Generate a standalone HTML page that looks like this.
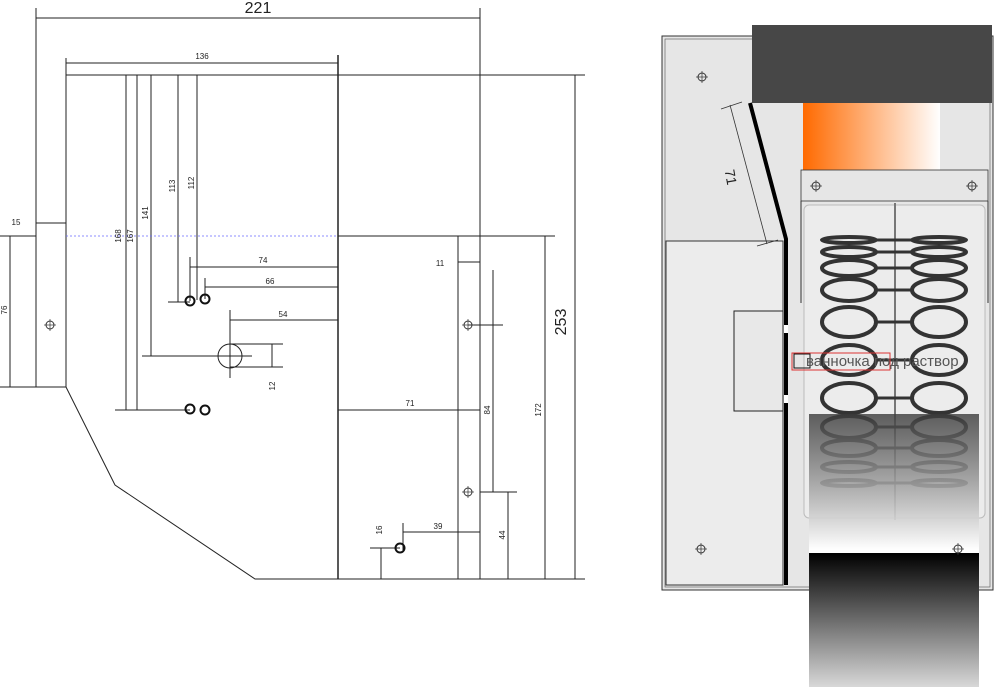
<!DOCTYPE html>
<html><head><meta charset="utf-8"><style>html,body{margin:0;padding:0;background:#fff}svg{display:block}</style></head>
<body>
<svg width="1000" height="687" viewBox="0 0 1000 687" xmlns="http://www.w3.org/2000/svg" font-family="Liberation Sans, sans-serif">
<defs>
<linearGradient id="og" x1="0" x2="1" y1="0" y2="0"><stop offset="0" stop-color="#ff6a00"/><stop offset="1" stop-color="#ffffff"/></linearGradient>
<linearGradient id="fg" x1="0" x2="0" y1="0" y2="1"><stop offset="0" stop-color="#3a3a3a" stop-opacity="0.8"/><stop offset="0.75" stop-color="#ffffff" stop-opacity="0.95"/><stop offset="1" stop-color="#ffffff"/></linearGradient>
<linearGradient id="bg" x1="0" x2="0" y1="0" y2="1"><stop offset="0" stop-color="#000"/><stop offset="1" stop-color="#d8d8d8"/></linearGradient>
<g id="hole"><circle r="4" fill="none" stroke="#333" stroke-width="1"/><line x1="-6" x2="6" y1="0" y2="0" stroke="#333" stroke-width="0.7"/><line y1="-6" y2="6" x1="0" x2="0" stroke="#333" stroke-width="0.7"/></g>
<g id="bh"><circle r="4.5" fill="none" stroke="#111" stroke-width="2"/></g>
</defs>

<!-- LEFT DRAWING -->
<g stroke="#222" stroke-width="1" fill="none">
<line x1="36" y1="8" x2="36" y2="387"/>
<line x1="480" y1="8" x2="480" y2="579"/>
<line x1="36" y1="18" x2="480" y2="18"/>
<line x1="66" y1="58" x2="66" y2="387"/>
<line x1="66" y1="63" x2="338" y2="63"/>
<line x1="338" y1="55" x2="338" y2="579" stroke-width="1.5"/>
<line x1="66" y1="75" x2="585" y2="75"/>
<polyline points="66,387 115,485 255,579 585,579"/>
<line x1="126" y1="75" x2="126" y2="410"/>
<line x1="137" y1="75" x2="137" y2="410"/>
<line x1="151" y1="75" x2="151" y2="356"/>
<line x1="178" y1="75" x2="178" y2="302"/>
<line x1="197" y1="75" x2="197" y2="300"/>
<line x1="36" y1="223" x2="66" y2="223"/>
<line x1="0" y1="236" x2="36" y2="236"/>
<line x1="66" y1="236" x2="338" y2="236" stroke="#6a6aff" stroke-dasharray="2,2" stroke-width="0.8"/>
<line x1="338" y1="236" x2="555" y2="236"/>
<line x1="10" y1="236" x2="10" y2="387"/>
<line x1="0" y1="387" x2="66" y2="387"/>
<line x1="190" y1="257" x2="190" y2="301"/>
<line x1="190" y1="267" x2="338" y2="267"/>
<line x1="205" y1="278" x2="205" y2="299"/>
<line x1="205" y1="287" x2="338" y2="287"/>
<line x1="168" y1="302" x2="190" y2="302"/>
<line x1="230" y1="310" x2="230" y2="378"/>
<line x1="230" y1="320" x2="338" y2="320"/>
<circle cx="230" cy="356" r="12"/>
<line x1="142" y1="356" x2="252" y2="356"/>
<line x1="230" y1="344" x2="283" y2="344"/>
<line x1="230" y1="367" x2="283" y2="367"/>
<line x1="272" y1="344" x2="272" y2="367"/>
<line x1="115" y1="410" x2="190" y2="410"/>
<line x1="338" y1="410" x2="480" y2="410"/>
<line x1="458" y1="236" x2="458" y2="579"/>
<line x1="458" y1="262" x2="480" y2="262"/>
<line x1="493" y1="270" x2="493" y2="492"/>
<line x1="468" y1="325" x2="503" y2="325"/>
<line x1="480" y1="492" x2="517" y2="492"/>
<line x1="508" y1="492" x2="508" y2="579"/>
<line x1="545" y1="236" x2="545" y2="579"/>
<line x1="575" y1="75" x2="575" y2="579"/>
<line x1="403" y1="523" x2="403" y2="550"/>
<line x1="403" y1="532" x2="480" y2="532"/>
<line x1="370" y1="548" x2="400" y2="548"/>
<line x1="381" y1="548" x2="381" y2="579"/>
</g>
<use href="#hole" x="50" y="325"/>
<use href="#hole" x="468" y="325"/>
<use href="#hole" x="468" y="492"/>
<use href="#bh" x="190" y="301"/><use href="#bh" x="205" y="299"/>
<use href="#bh" x="190" y="409"/><use href="#bh" x="205" y="410"/>
<use href="#bh" x="400" y="548"/>
<g fill="#222" font-size="8" text-anchor="middle">
<text x="258" y="13" font-size="16">221</text>
<text x="202" y="59">136</text>
<text x="16" y="225">15</text>
<text x="263" y="263">74</text>
<text x="270" y="284">66</text>
<text x="283" y="317">54</text>
<text x="410" y="406">71</text>
<text x="440" y="266">11</text>
<text x="438" y="529">39</text>
<text transform="translate(7,310) rotate(-90)">76</text>
<text transform="translate(121,236) rotate(-90)">168</text>
<text transform="translate(133,236) rotate(-90)">167</text>
<text transform="translate(148,213) rotate(-90)">141</text>
<text transform="translate(175,186) rotate(-90)">113</text>
<text transform="translate(194,183) rotate(-90)">112</text>
<text transform="translate(275,386) rotate(-90)">12</text>
<text transform="translate(490,410) rotate(-90)">84</text>
<text transform="translate(505,535) rotate(-90)">44</text>
<text transform="translate(541,410) rotate(-90)">172</text>
<text transform="translate(382,530) rotate(-90)">16</text>
<text transform="translate(566,322) rotate(-90)" font-size="16">253</text>
</g>

<!-- RIGHT DRAWING -->
<rect x="662" y="36" width="331" height="554" fill="#e6e6e6" stroke="#333" stroke-width="1"/>
<rect x="665" y="39" width="325" height="548" fill="none" stroke="#666" stroke-width="0.7"/>
<rect x="666" y="241" width="117" height="344" fill="#ececec" stroke="#333"/>
<rect x="734" y="311" width="49" height="100" fill="#e8e8e8" stroke="#222"/>
<rect x="752" y="25" width="240" height="78" fill="#474747"/>
<path d="M803,103 H940 V170 Q940,178 932,178 H811 Q803,178 803,170 Z" fill="url(#og)"/>
<rect x="801" y="170" width="187" height="31" fill="#e6e6e6" stroke="#333" stroke-width="0.8"/>
<line x1="801" y1="201" x2="801" y2="303" stroke="#333"/>
<line x1="988" y1="201" x2="988" y2="303" stroke="#333"/>
<rect x="804" y="205" width="181" height="313" rx="5" fill="#ececec" stroke="#bbb"/>
<line x1="895" y1="203" x2="895" y2="520" stroke="#777" stroke-width="2"/>
<g fill="none" stroke="#333" stroke-width="4">
<g id="col">
<ellipse cx="849" cy="240" rx="27" ry="3"/><ellipse cx="849" cy="252" rx="27" ry="5"/>
<ellipse cx="849" cy="268" rx="27" ry="8"/><ellipse cx="849" cy="290" rx="27" ry="11"/>
<ellipse cx="849" cy="322" rx="27" ry="15"/><ellipse cx="849" cy="360" rx="27" ry="15"/>
<ellipse cx="849" cy="398" rx="27" ry="15"/><ellipse cx="849" cy="427" rx="27" ry="11"/>
<ellipse cx="849" cy="448" rx="27" ry="8"/><ellipse cx="849" cy="467" rx="27" ry="5"/>
<ellipse cx="849" cy="483" rx="27" ry="3"/>
</g>
<use href="#col" x="90"/>
<g stroke-width="3">
<line x1="876" y1="240" x2="912" y2="240"/><line x1="876" y1="252" x2="912" y2="252"/>
<line x1="876" y1="268" x2="912" y2="268"/><line x1="876" y1="290" x2="912" y2="290"/>
<line x1="876" y1="322" x2="912" y2="322"/><line x1="876" y1="360" x2="912" y2="360"/>
<line x1="876" y1="398" x2="912" y2="398"/><line x1="876" y1="427" x2="912" y2="427"/>
<line x1="876" y1="448" x2="912" y2="448"/><line x1="876" y1="467" x2="912" y2="467"/>
<line x1="876" y1="483" x2="912" y2="483"/>
</g>
</g>
<rect x="809" y="414" width="170" height="180" fill="url(#fg)"/>
<rect x="809" y="553" width="170" height="134" fill="url(#bg)"/>
<polyline points="750,103 786,239 786,585" fill="none" stroke="#000" stroke-width="4"/>
<rect x="784" y="325" width="4" height="8" fill="#fff"/>
<rect x="784" y="395" width="4" height="8" fill="#fff"/>
<line x1="730" y1="105" x2="767" y2="244" stroke="#333" stroke-width="0.8"/>
<line x1="721" y1="109" x2="742" y2="102" stroke="#333" stroke-width="0.8"/>
<line x1="757" y1="246" x2="778" y2="240" stroke="#333" stroke-width="0.8"/>
<text transform="translate(726,178) rotate(80)" font-size="14" fill="#222" text-anchor="middle">71</text>
<use href="#hole" x="702" y="77"/><use href="#hole" x="701" y="549"/>
<use href="#hole" x="816" y="186"/><use href="#hole" x="972" y="186"/><use href="#hole" x="958" y="549"/>
<rect x="792" y="353" width="98" height="17" fill="none" stroke="#d33" stroke-width="1"/>
<rect x="794" y="354" width="16" height="14" fill="none" stroke="#111" stroke-width="1"/>
<text x="806" y="366" font-size="15" fill="#555">ванночка под раствор</text>
</svg>
</body></html>
